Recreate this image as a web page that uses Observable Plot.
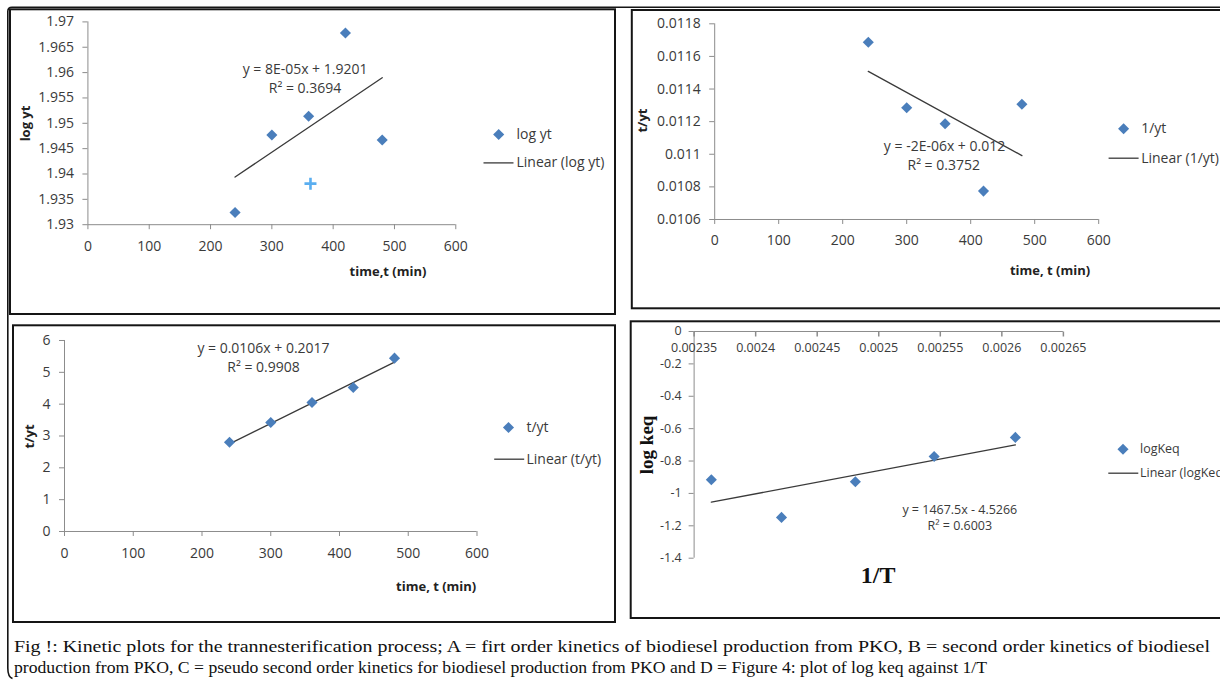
<!DOCTYPE html>
<html><head><meta charset="utf-8">
<script src="https://cdn.jsdelivr.net/npm/d3@7"></script>
<script src="https://cdn.jsdelivr.net/npm/@observablehq/plot@0.6"></script>
<style>
html,body{margin:0;padding:0;background:#fff;overflow:hidden;}
#page{position:relative;width:1220px;height:681px;overflow:hidden;background:#fff;}
.panel{position:absolute;overflow:visible;}
.panel svg{display:block;overflow:visible;max-width:none !important;}
#overlay{position:absolute;left:0;top:0;pointer-events:none;}
</style></head><body><div id="page"></div>
<script>
// ---------------- data ----------------
const timeMin = [240, 300, 360, 420, 480];

// A: first order
const logYt = [1.9324, 1.9477, 1.9514, 1.9678, 1.9467];
const trendA_t = [240, 480];
const trendA_v = [1.9394, 1.9590];
const cursorA_t = [363];
const cursorA_v = [1.9381];
const ticksA_x = [0, 100, 200, 300, 400, 500, 600];
const ticksA_y = [1.93, 1.935, 1.94, 1.945, 1.95, 1.955, 1.96, 1.965, 1.97];
const labelsA_y = ["1.93", "1.935", "1.94", "1.945", "1.95", "1.955", "1.96", "1.965", "1.97"];

// B: second order
const invYt = [0.011687, 0.011285, 0.011187, 0.010774, 0.011307];
const trendB_t = [240, 480];
const trendB_v = [0.011508, 0.010992];
const ticksB_x = [0, 100, 200, 300, 400, 500, 600];
const ticksB_y = [0.0106, 0.0108, 0.011, 0.0112, 0.0114, 0.0116, 0.0118];
const labelsB_y = ["0.0106", "0.0108", "0.011", "0.0112", "0.0114", "0.0116", "0.0118"];

// C: pseudo second order
const tOverYt = [2.805, 3.424, 4.053, 4.524, 5.445];
const trendC_t = [240, 480];
const trendC_v = [2.752, 5.32];
const ticksC_x = [0, 100, 200, 300, 400, 500, 600];
const ticksC_y = [0, 1, 2, 3, 4, 5, 6];

// D: log keq vs 1/T
const invT = [0.002364, 0.002421, 0.002481, 0.002545, 0.002611];
const logKeq = [-0.916, -1.148, -0.928, -0.772, -0.654];
const trendD_x = [0.002364, 0.002611];
const trendD_v = [-1.054, -0.700];
const ticksD_x = [0.00235, 0.0024, 0.00245, 0.0025, 0.00255, 0.0026, 0.00265];
const labelsD_x = ["0.00235", "0.0024", "0.00245", "0.0025", "0.00255", "0.0026", "0.00265"];
const ticksD_y = [0, -0.2, -0.4, -0.6, -0.8, -1, -1.2, -1.4];
const labelsD_y = ["0", "-0.2", "-0.4", "-0.6", "-0.8", "-1", "-1.2", "-1.4"];

const captionLines = [
  "Fig !: Kinetic plots for the trannesterification process; A = firt order kinetics of biodiesel production from PKO, B = second order kinetics of biodiesel",
  "production from PKO, C = pseudo second order kinetics for biodiesel production from PKO and D = Figure 4: plot of log keq against 1/T"
];

// ---------------- style ----------------
const axisGray = "#8c8c8c";
const ink = "#3a3a3a";
const markerBlue = "#4a7ebb";
const sans = "'Open Sans', sans-serif";
const serif = "'Liberation Serif', 'Times New Roman', serif";

const hLine = {draw(ctx, size) { const h = Math.sqrt(size / Math.PI); ctx.moveTo(-h, 0); ctx.lineTo(h, 0); }};
const vTickDown = {draw(ctx, size) { const h = Math.sqrt(size / Math.PI); ctx.moveTo(0, 0); ctx.lineTo(0, h); }};
const plusMark = {draw(ctx, size) { const h = Math.sqrt(size / Math.PI); ctx.moveTo(-h, 0); ctx.lineTo(h, 0); ctx.moveTo(0, -h); ctx.lineTo(0, h); }};

const page = document.getElementById("page");

function rows(xs, ys) { return xs.map((x, i) => ({x, y: ys[i]})); }
function fmtFrom(ticks, labels) { const m = new Map(ticks.map((t, i) => [t, labels[i]])); return d => m.get(d); }

function at(P, px, py, text, o = {}) {
  return Plot.text([text], {frameAnchor: "top-left", dx: px - P.frame.x0, dy: py - P.frame.y0,
    text: d => d, textAnchor: "middle", lineAnchor: "middle", fill: ink, fontSize: 14, ...o});
}
function legend(P, dotX, dotY, lineX, lineY, textX, name, lineName, fs = 14) {
  return [
    Plot.dot([0], {frameAnchor: "top-left", dx: dotX - P.frame.x0, dy: dotY - P.frame.y0, symbol: "diamond2", r: 5, fill: markerBlue, stroke: "none"}),
    at(P, textX, dotY, name, {textAnchor: "start", fontSize: fs}),
    Plot.dot([0], {frameAnchor: "top-left", dx: lineX - P.frame.x0, dy: lineY - P.frame.y0, symbol: hLine, r: 15, fill: "none", stroke: ink, strokeWidth: 1.3}),
    at(P, textX, lineY, lineName, {textAnchor: "start", fontSize: fs})
  ];
}

function panel(P, opts) {
  const svg = Plot.plot({
    width: P.box.w, height: P.box.h,
    marginLeft: P.frame.x0 - P.box.left,
    marginRight: P.box.left + P.box.w - P.frame.x1,
    marginTop: P.frame.y0 - P.box.top,
    marginBottom: P.box.top + P.box.h - P.frame.y1,
    style: {fontFamily: sans, fontSize: "14px", color: ink, background: "transparent", overflow: "visible", maxWidth: "none"},
    ...opts
  });
  svg.style.maxWidth = "none";
  svg.style.width = P.box.w + "px";
  svg.style.height = P.box.h + "px";
  const div = document.createElement("div");
  div.className = "panel";
  div.style.left = P.box.left + "px";
  div.style.top = P.box.top + "px";
  div.style.width = P.box.w + "px";
  div.style.height = P.box.h + "px";
  div.appendChild(svg);
  page.appendChild(div);
}

// ---------------- Panel A ----------------
const PA = {box: {left: 10, top: 9.3, w: 605, h: 304.7}, frame: {x0: 87.4, x1: 455.3, y0: 21.7, y1: 224.5}};
panel(PA, {
  x: {domain: [0, 600]},
  y: {domain: [1.93, 1.97]},
  marks: [
    Plot.ruleX([0], {stroke: axisGray}),
    Plot.ruleY([1.93], {stroke: axisGray}),
    Plot.axisX(ticksA_x, {tickSize: 5, tickPadding: 11, stroke: axisGray, fill: ink, fontSize: 14, label: null}),
    Plot.axisY(ticksA_y, {tickSize: 5, tickPadding: 9, stroke: axisGray, fill: ink, fontSize: 14, label: null, tickFormat: fmtFrom(ticksA_y, labelsA_y)}),
    Plot.line(rows(trendA_t, trendA_v), {x: "x", y: "y", stroke: ink, strokeWidth: 1.3}),
    Plot.dot(rows(timeMin, logYt), {x: "x", y: "y", symbol: "diamond2", r: 5, fill: markerBlue, stroke: "none"}),
    Plot.dot(rows(cursorA_t, cursorA_v), {x: "x", y: "y", symbol: plusMark, r: 6, fill: "none", stroke: "#5aaef0", strokeWidth: 2.6}),
    at(PA, 304.5, 69.3, "y = 8E-05x + 1.9201"),
    at(PA, 304.5, 88.3, "R² = 0.3694"),
    at(PA, 25.7, 123.3, "log yt", {rotate: -90, fontWeight: "bold", fontSize: 13, fill: "#222"}),
    at(PA, 387.5, 271.7, "time,t (min)", {fontWeight: "bold", fontSize: 13, fill: "#222"}),
    ...legend(PA, 498.2, 134.3, 498, 162.7, 516, "log yt", "Linear (log yt)")
  ]
});

// ---------------- Panel B ----------------
const PB = {box: {left: 631.8, top: 10, w: 600, h: 298.3}, frame: {x0: 714, x1: 1098, y0: 23.3, y1: 219}};
panel(PB, {
  x: {domain: [0, 600]},
  y: {domain: [0.0106, 0.0118]},
  marks: [
    Plot.ruleX([0], {stroke: axisGray}),
    Plot.ruleY([0.0106], {stroke: axisGray}),
    Plot.axisX(ticksB_x, {tickSize: 5, tickPadding: 11, stroke: axisGray, fill: ink, fontSize: 14, label: null}),
    Plot.axisY(ticksB_y, {tickSize: 5, tickPadding: 9, stroke: axisGray, fill: ink, fontSize: 14, label: null, tickFormat: fmtFrom(ticksB_y, labelsB_y)}),
    Plot.line(rows(trendB_t, trendB_v), {x: "x", y: "y", stroke: ink, strokeWidth: 1.3}),
    Plot.dot(rows(timeMin, invYt), {x: "x", y: "y", symbol: "diamond2", r: 5, fill: markerBlue, stroke: "none"}),
    at(PB, 943.8, 145.7, "y = -2E-06x + 0.012"),
    at(PB, 943, 165, "R² = 0.3752"),
    at(PB, 642, 120, "t/yt", {rotate: -90, fontWeight: "bold", fontSize: 13, fill: "#222"}),
    at(PB, 1049.3, 270, "time, t (min)", {fontWeight: "bold", fontSize: 13, fill: "#222"}),
    ...legend(PB, 1122.9, 128.3, 1122.9, 157.7, 1140.5, "1/yt", "Linear (1/yt)")
  ]
});

// ---------------- Panel C ----------------
const PC = {box: {left: 13, top: 325.3, w: 602, h: 296.7}, frame: {x0: 64, x1: 476.5, y0: 340.3, y1: 531.3}};
panel(PC, {
  x: {domain: [0, 600]},
  y: {domain: [0, 6]},
  marks: [
    Plot.ruleX([0], {stroke: axisGray}),
    Plot.ruleY([0], {stroke: axisGray}),
    Plot.axisX(ticksC_x, {tickSize: 5, tickPadding: 12, stroke: axisGray, fill: ink, fontSize: 14, label: null}),
    Plot.axisY(ticksC_y, {tickSize: 5, tickPadding: 9, stroke: axisGray, fill: ink, fontSize: 14, label: null}),
    Plot.line(rows(trendC_t, trendC_v), {x: "x", y: "y", stroke: ink, strokeWidth: 1.3}),
    Plot.dot(rows(timeMin, tOverYt), {x: "x", y: "y", symbol: "diamond2", r: 5, fill: markerBlue, stroke: "none"}),
    at(PC, 263, 348, "y = 0.0106x + 0.2017"),
    at(PC, 263, 367.3, "R² = 0.9908"),
    at(PC, 29.7, 436.3, "t/yt", {rotate: -90, fontWeight: "bold", fontSize: 13, fill: "#222"}),
    at(PC, 435.7, 586.3, "time, t (min)", {fontWeight: "bold", fontSize: 13, fill: "#222"}),
    ...legend(PC, 508, 427.3, 508.7, 459, 526, "t/yt", "Linear (t/yt)")
  ]
});

// ---------------- Panel D ----------------
const PD = {box: {left: 630.7, top: 321.3, w: 600, h: 296.7}, frame: {x0: 693.3, x1: 1062.6, y0: 331.3, y1: 558}};
const fmtDx = fmtFrom(ticksD_x, labelsD_x);
panel(PD, {
  x: {domain: [0.00235, 0.00265], axis: null},
  y: {domain: [-1.4, 0]},
  marks: [
    Plot.ruleX([0.00235], {stroke: axisGray}),
    Plot.ruleY([0], {stroke: axisGray}),
    Plot.axisY(ticksD_y, {tickSize: 5, tickPadding: 7.5, stroke: axisGray, fill: ink, fontSize: 12.5, label: null, tickFormat: fmtFrom(ticksD_y, labelsD_y)}),
    Plot.dot(ticksD_x, {x: d => d, y: () => 0, symbol: vTickDown, r: 5, fill: "none", stroke: axisGray}),
    Plot.text(ticksD_x, {x: d => d, y: () => 0, dy: 16.7, text: fmtDx, fill: ink, fontSize: 12.5, lineAnchor: "middle"}),
    Plot.line(rows(trendD_x, trendD_v), {x: "x", y: "y", stroke: ink, strokeWidth: 1.3}),
    Plot.dot(rows(invT, logKeq), {x: "x", y: "y", symbol: "diamond2", r: 5, fill: markerBlue, stroke: "none"}),
    at(PD, 959, 510.3, "y = 1467.5x - 4.5266", {fontSize: 12.5}),
    at(PD, 959, 526.3, "R² = 0.6003", {fontSize: 12.5}),
    at(PD, 645.9, 444.7, "log keq", {rotate: -90, fontWeight: "bold", fontSize: 19, fontFamily: serif, fill: "#111"}),
    at(PD, 877.4, 575.3, "1/T", {fontWeight: "bold", fontSize: 24, fontFamily: serif, fill: "#111"}),
    ...legend(PD, 1122.2, 449, 1122.5, 473, 1139.2, "logKeq", "Linear (logKeq)", 12.5)
  ]
});

// ---------------- frames and caption ----------------
const ov = d3.select(page).append("svg").attr("id", "overlay").attr("width", 1220).attr("height", 681);
const boxes = [
  [10, 9.3, 615, 314],
  [631.8, 10, 1224, 308.3],
  [13, 325.3, 615, 622],
  [630.7, 321.3, 1224, 618]
];
ov.selectAll("rect.pb").data(boxes).join("rect")
  .attr("x", d => d[0]).attr("y", d => d[1])
  .attr("width", d => d[2] - d[0]).attr("height", d => d[3] - d[1])
  .attr("fill", "none").attr("stroke", "#151515").attr("stroke-width", 2);
ov.append("path")
  .attr("d", "M1224,7.3 L12,7.3 Q7.8,7.3 7.8,11.5 L7.8,668 Q7.8,677 12.5,678.5")
  .attr("fill", "none").attr("stroke", "#151515").attr("stroke-width", 1.6);
const capLen = [1196, 973];
ov.selectAll("text.cap").data(captionLines).join("text")
  .attr("x", 14).attr("y", (d, i) => 651.5 + i * 21.5)
  .attr("textLength", (d, i) => capLen[i]).attr("lengthAdjust", "spacingAndGlyphs")
  .attr("font-family", serif).attr("font-size", 17).attr("fill", "#111")
  .text(d => d);
</script></body></html>
